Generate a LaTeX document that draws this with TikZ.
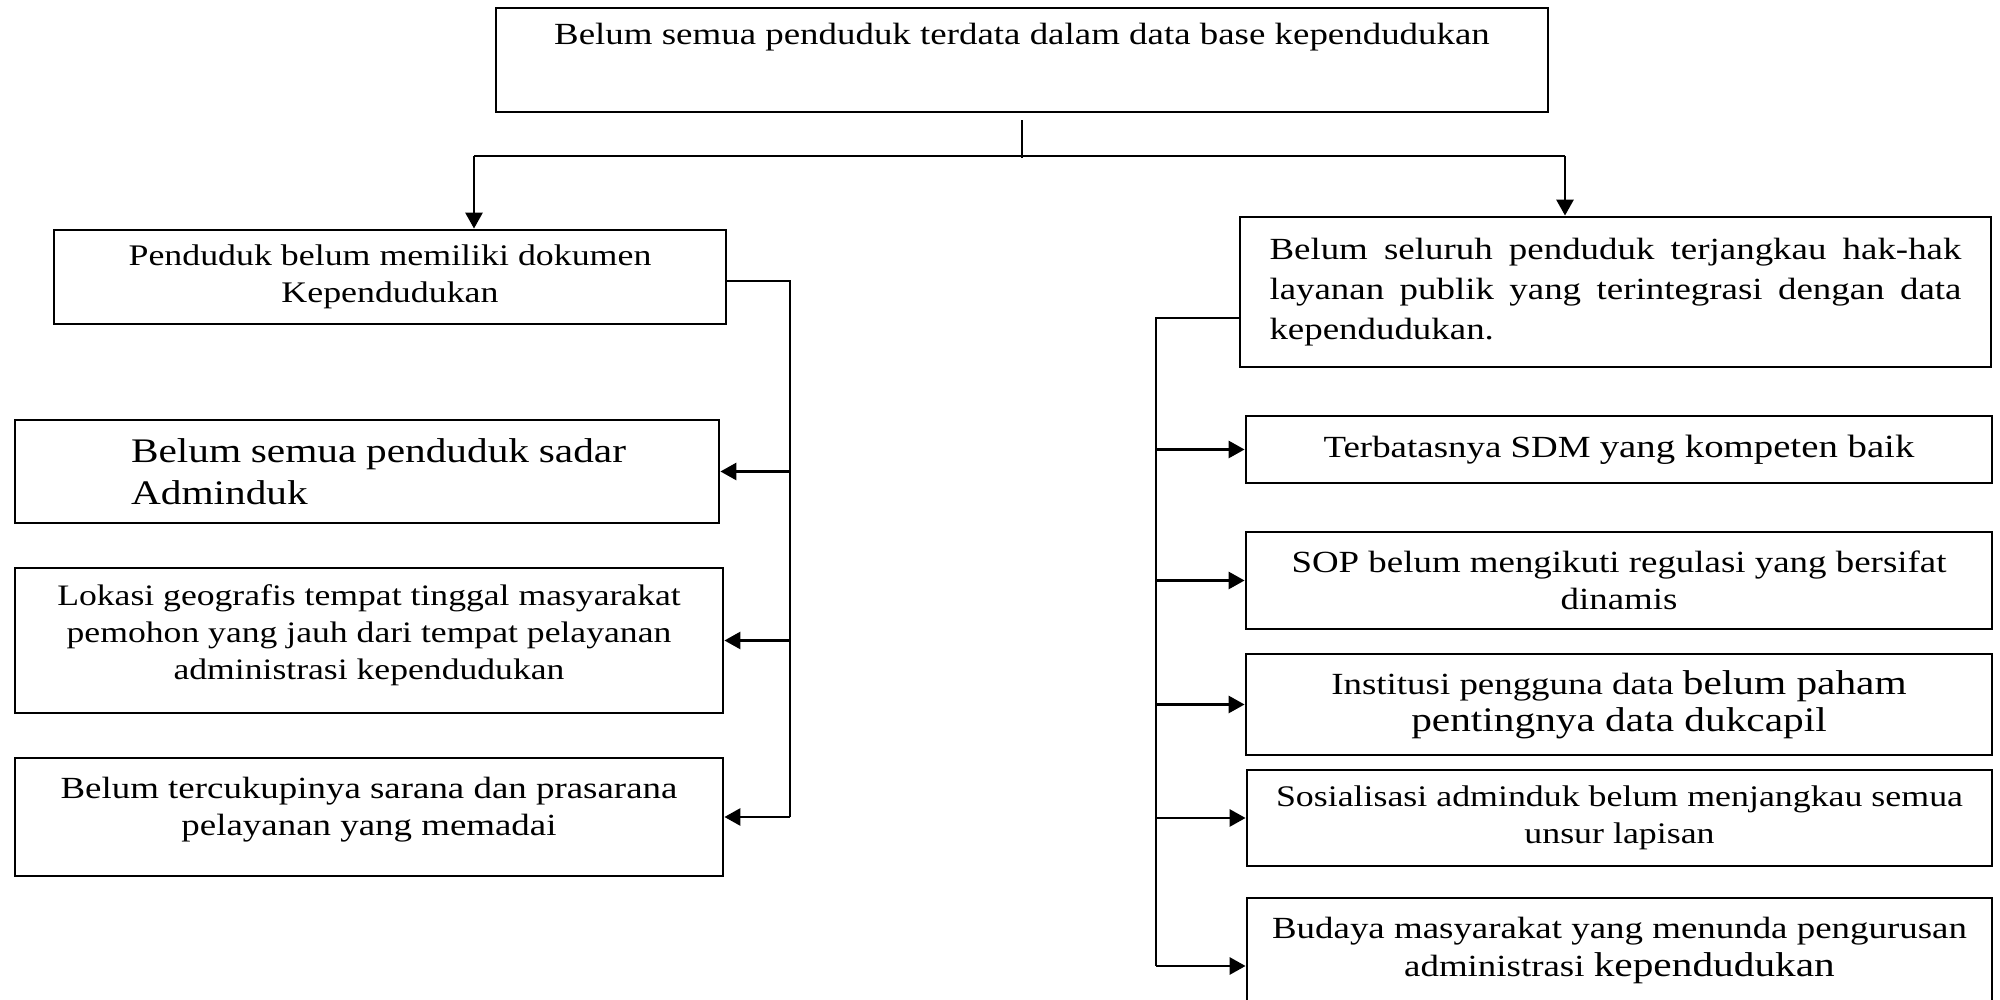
\documentclass[tikz,border=0pt]{standalone}
\usepackage{fontspec}
\setmainfont{Liberation Serif}[FakeStretch=1.2]
\usetikzlibrary{arrows.meta}
\newcommand{\bsz}{\fontsize{8.75}{10.5}\selectfont}
\newcommand{\lsz}{\fontsize{9.8}{12}\selectfont}

\begin{document}
\begin{tikzpicture}[
	box/.style={draw, line width=0.8pt, rectangle, inner sep=0pt, align=center, font=\bsz},
	ln/.style={line width=0.7pt},
	arr/.style={line width=0.8pt, -{Triangle[length=1.6mm, width=1.7mm]}}
	]
		\useasboundingbox (0,0) rectangle (20,-10);

		\node [box, minimum width=10.52cm, minimum height=1.04cm, text depth=0.52cm] (top) at (10.22,-0.60) {Belum semua penduduk terdata dalam data base kependudukan};

		\node [box, minimum width=6.72cm, minimum height=0.94cm, font=\fontsize{8.5}{10.5}\selectfont] (L1) at (3.90,-2.77) {Penduduk belum memiliki dokumen\\Kependudukan};

		\node [box, minimum width=7.04cm, minimum height=1.03cm, text width=5.18cm, align=justify, font=\lsz] (L2) at (3.67,-4.715) {\hspace*{0.23cm}Belum semua penduduk sadar\linebreak\hspace*{0.23cm}Adminduk};

		\node [box, minimum width=7.08cm, minimum height=1.45cm, font=\fontsize{8.45}{10.5}\selectfont] (L3) at (3.69,-6.405) {Lokasi geografis tempat tinggal masyarakat\\pemohon yang jauh dari tempat pelayanan\\administrasi kependudukan\\[-0.2cm]\mbox{}};

		\node [box, minimum width=7.08cm, minimum height=1.18cm] (L4) at (3.69,-8.17) {Belum tercukupinya sarana dan prasarana\\pelayanan yang memadai\\[-0.15cm]\mbox{}};

		\node [box, minimum width=7.51cm, minimum height=1.50cm, text width=6.92cm, align=justify, font=\fontsize{8.75}{11.4}\selectfont] (R1) at (16.155,-2.92) {Belum seluruh penduduk terjangkau hak-hak\linebreak layanan publik yang terintegrasi dengan data\linebreak kependudukan.};

		\node [box, minimum width=7.46cm, minimum height=0.67cm] (R2) at (16.19,-4.495) {Terbatasnya SDM {\fontsize{9.2}{11}\selectfont yang kompeten baik}};

		\node [box, minimum width=7.46cm, minimum height=0.97cm] (R3) at (16.19,-5.805) {SOP belum mengikuti regulasi yang bersifat\\dinamis};

		\node [box, minimum width=7.46cm, minimum height=1.01cm] (R4) at (16.19,-7.045) {Institusi pengguna data {\lsz belum paham}\\{\lsz pentingnya data dukcapil}};

		\node [box, minimum width=7.45cm, minimum height=0.96cm, font=\fontsize{8.5}{10.5}\selectfont] (R5) at (16.195,-8.18) {Sosialisasi adminduk belum menjangkau semua\\unsur lapisan};

		\node [box, minimum width=7.45cm, minimum height=1.12cm, font=\fontsize{8.75}{11}\selectfont] (R6) at (16.195,-9.54) {Budaya masyarakat yang menunda pengurusan\\administrasi {\lsz kependudukan}\\[-0.24cm]\mbox{}};

		\coordinate (bl) at (4.74,-1.56);
		\coordinate (br) at (15.65,-1.56);
		\coordinate (lt) at (7.90,-2.81);
		\coordinate (rt) at (11.56,-3.18);

		\draw [ln] ([yshift=-0.7mm]top.south) -- ([yshift=-0.2mm]top.south |- bl);

		\draw [ln] (bl) -- (br);

		\draw [arr] (bl) -- (bl |- L1.north);

		\draw [arr] (br) -- (br |- R1.north);

		\draw [ln] (L1.east |- lt) -- (lt) -- (lt |- L4.east);

		\foreach \n in {L2,L3,L4}
			\draw [arr] (lt |- \n.east) -- (\n.east);

		\draw [ln] (R1.west |- rt) -- (rt) -- ([yshift=-1.2mm]rt |- R6.west);

		\foreach \n in {R2,R3,R4,R5}
			\draw [arr] (rt |- \n.west) -- (\n.west);

		\draw [arr] ([yshift=-1.2mm]rt |- R6.west) -- ([yshift=-1.2mm]R6.west);
	\end{tikzpicture}
\end{document}
